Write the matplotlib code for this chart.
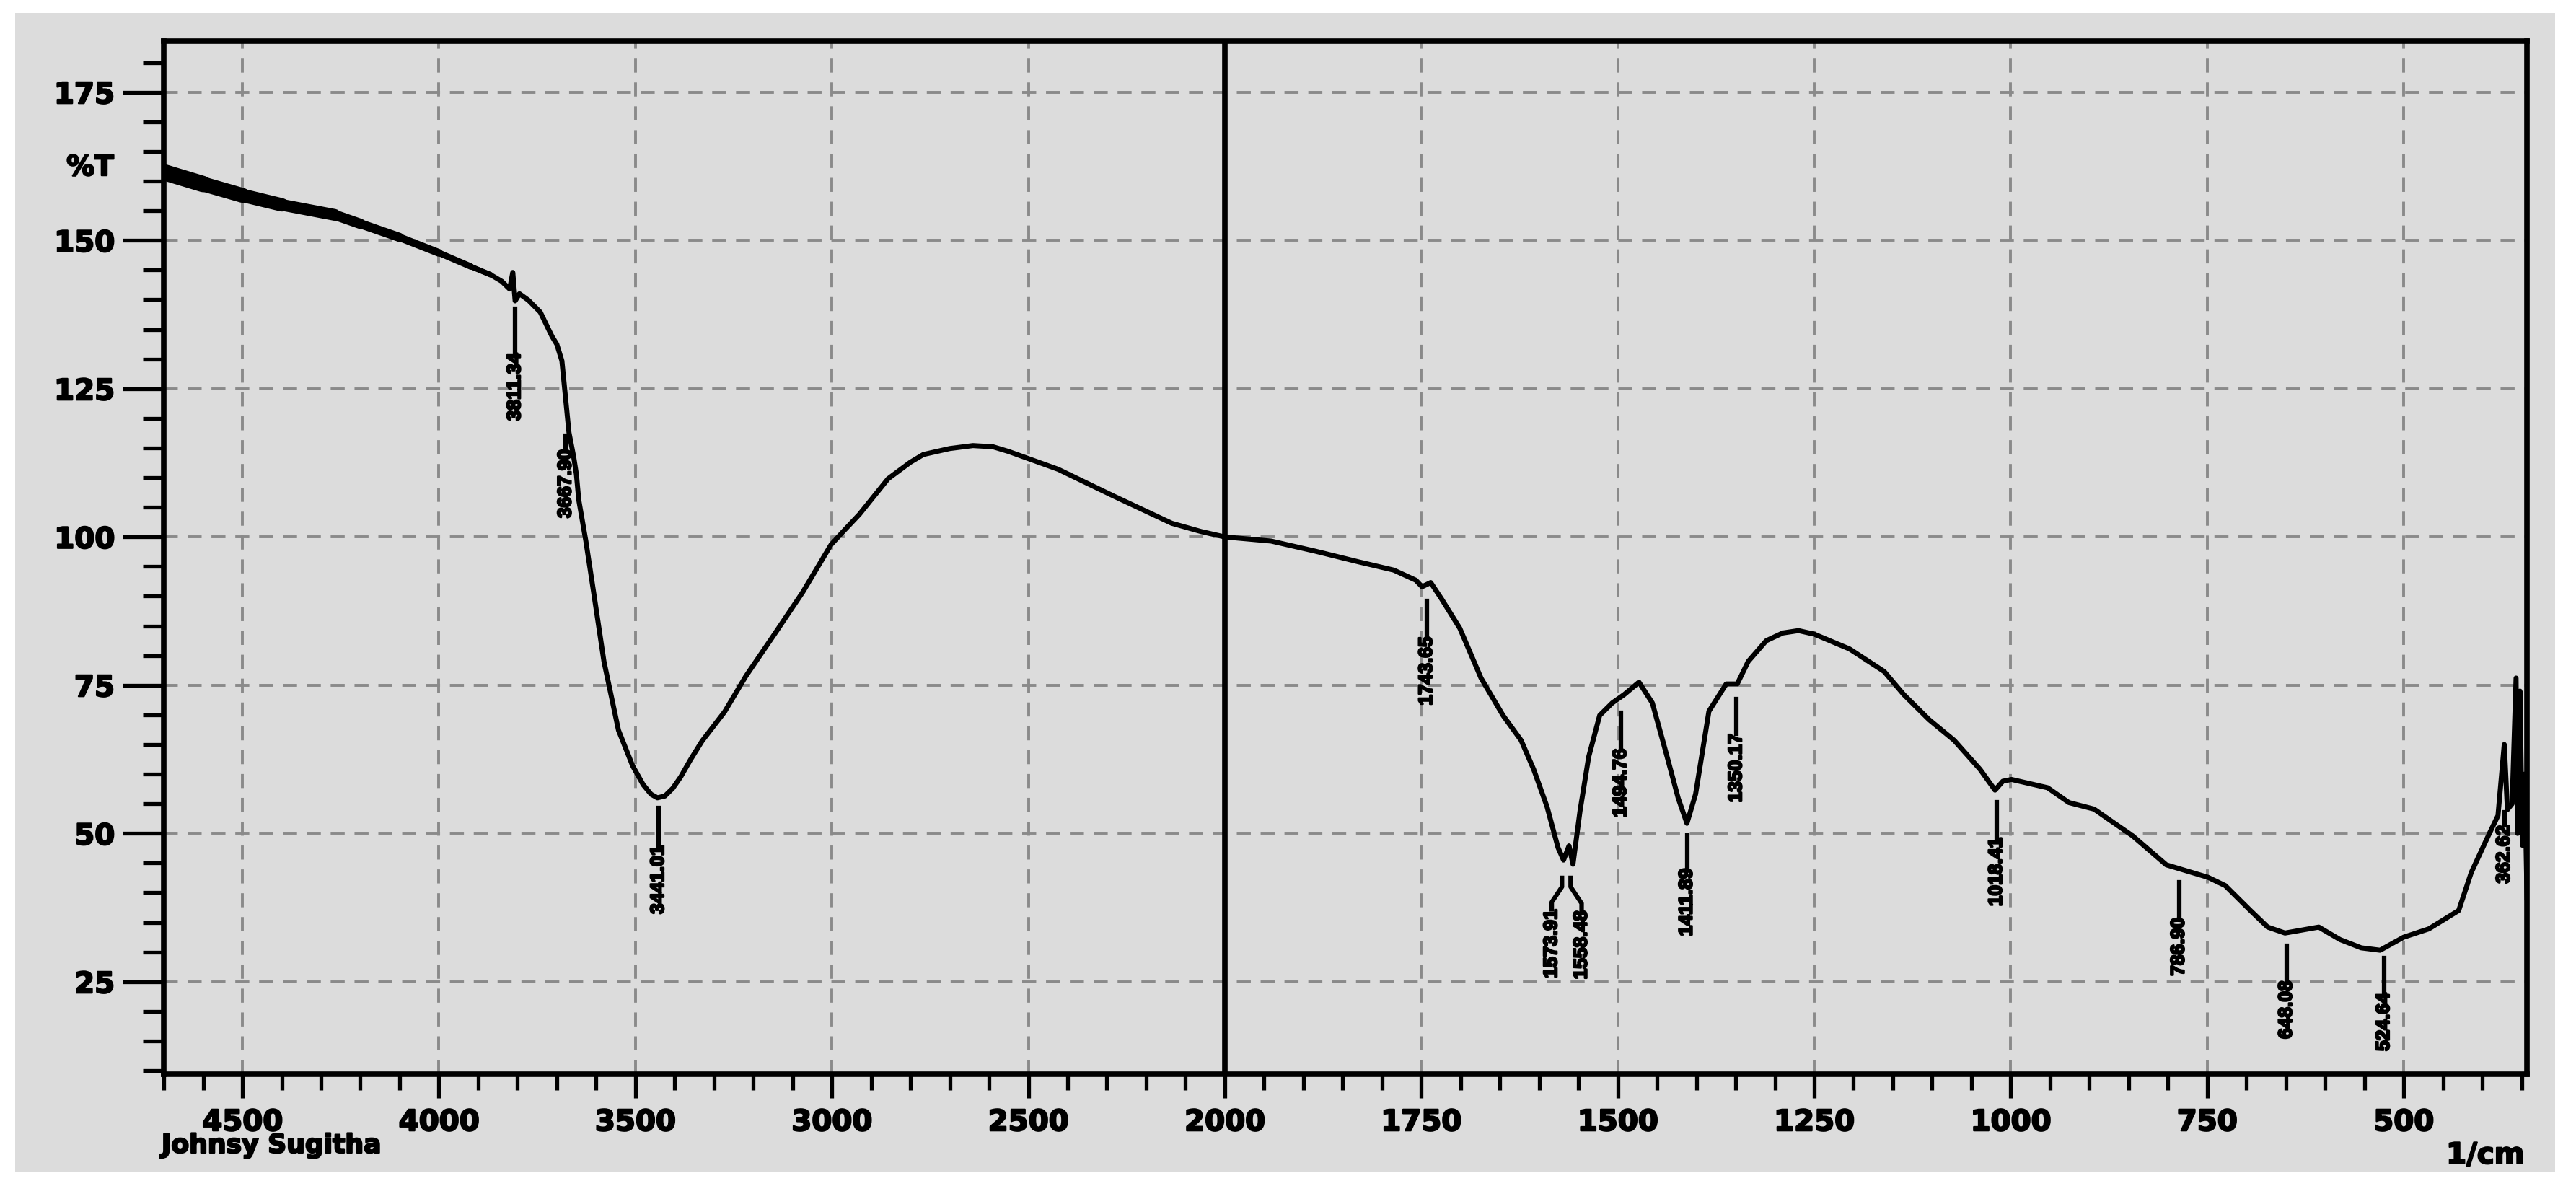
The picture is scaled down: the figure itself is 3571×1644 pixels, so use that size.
import numpy as np
import matplotlib
matplotlib.use("Agg")
import matplotlib.pyplot as plt
import matplotlib.patheffects as pe
from matplotlib import font_manager
from matplotlib.collections import LineCollection
from matplotlib.patches import Rectangle
from matplotlib.transforms import blended_transform_factory

# spectrum (1/cm, %T)
wavenumber = [4700, 4600, 4500, 4400, 4265, 4200, 4100, 4000, 3919, 3868, 3840, 3820,
              3812, 3806, 3795, 3772, 3742, 3712, 3700, 3687, 3678, 3669, 3657, 3650,
              3644, 3626, 3607, 3580, 3543, 3507, 3480, 3460, 3444, 3425, 3405, 3385,
              3360, 3330, 3273, 3219, 3146, 3074, 3002, 2970, 2930, 2857, 2800, 2767,
              2700, 2641, 2590, 2550, 2424, 2280, 2135, 2060, 2000, 1941, 1885, 1830,
              1785, 1757, 1749, 1738, 1724, 1701, 1674, 1646, 1623, 1607, 1590, 1576,
              1569, 1562, 1557, 1548, 1537, 1523, 1507, 1492, 1473, 1456, 1440, 1423,
              1412, 1401, 1384, 1362, 1348, 1334, 1311, 1290, 1270, 1250, 1205, 1161,
              1136, 1104, 1072, 1039, 1020, 1010, 999, 953, 926, 894, 845, 802,
              749, 727, 695, 673, 651, 608, 581, 554, 530, 500, 468, 430,
              414, 392, 380, 372, 368, 362, 357, 355, 352, 349, 346, 343]
transmittance = [161.5, 159.5, 157.6, 156.0, 154.3, 152.8, 150.5, 147.9, 145.6, 144.2, 143.1, 141.8,
                 144.6, 139.8, 141.0, 139.9, 137.9, 133.8, 132.5, 129.7, 123.7, 117.6, 113.5, 110.5,
                 106.2, 99.3, 91.0, 79.0, 67.4, 61.4, 58.2, 56.6, 56.0, 56.3, 57.6, 59.5,
                 62.4, 65.6, 70.5, 76.5, 83.6, 90.7, 98.7, 101.0, 103.8, 109.8, 112.6, 113.9,
                 114.9, 115.4, 115.2, 114.4, 111.4, 106.8, 102.3, 100.9, 100.0, 99.3, 97.6, 95.8,
                 94.4, 92.7, 91.6, 92.3, 89.5, 84.6, 76.2, 69.9, 65.7, 60.8, 54.5, 47.6,
                 45.5, 47.9, 44.8, 53.8, 62.9, 69.9, 72.0, 73.4, 75.5, 72.0, 64.3, 55.9,
                 51.7, 56.6, 70.6, 75.2, 75.2, 79.0, 82.5, 83.8, 84.2, 83.6, 81.1, 77.3,
                 73.4, 69.2, 65.7, 60.8, 57.3, 58.8, 59.1, 57.7, 55.2, 54.1, 49.6, 44.7,
                 42.6, 41.2, 37.0, 34.2, 33.2, 34.2, 32.1, 30.7, 30.3, 32.5, 33.9, 37.0,
                 43.4, 49.7, 53.0, 65.0, 54.0, 55.0, 76.2, 50.0, 74.0, 48.0, 60.0, 38.8]

# peak labels: text, leader start x, text x, leader top, leader bottom (= text top)
peak_text = ["3811.34", "3667.90", "3441.01", "1743.65", "1573.91", "1558.48", "1494.76",
             "1411.89", "1350.17", "1018.41", "786.90", "648.08", "524.64", "362.62"]
peak_w = [3806, 3677, 3441, 1743, 1571, 1560, 1496, 1412, 1349, 1018, 786, 649, 525, 372]
text_w = [3806, 3677, 3441, 1743, 1584, 1546, 1496, 1412, 1349, 1018, 786, 649, 525, 372]
line_top = [138.5, 117.0, 54.3, 89.2, 42.5, 42.5, 70.3, 49.7, 72.7, 55.2, 41.8, 31.1, 29.0, 53.5]
line_bottom = [131.0, 114.8, 48.0, 83.2, 37.2, 37.0, 64.3, 44.1, 66.8, 49.3, 35.8, 25.2, 23.1, 51.4]

x_major = [4500, 4000, 3500, 3000, 2500, 2000, 1750, 1500, 1250, 1000, 750, 500]
y_major = [25, 50, 75, 100, 125, 150, 175]
x_minor = list(range(4700, 2000, -100)) + list(range(1950, 340, -50))
y_minor = list(range(10, 185, 5))

BG = "#dcdcdc"
GRID = "#8a8a8a"
HEAVY = [pe.withStroke(linewidth=1.6, foreground="black")]

plt.rcParams["font.family"] = ["DejaVu Sans"]
plt.rcParams["font.weight"] = "bold"

names = {f.name for f in font_manager.fontManager.ttflist}
if "Liberation Sans Narrow" in names:
    peak_font, peak_size = "Liberation Sans Narrow", 23
else:
    peak_font, peak_size = "Liberation Sans", 19


def fwd(w):
    w = np.asarray(w, float)
    return np.where(w >= 2000, 2000 + (w - 2000) / 2.0, w)


def inv(u):
    u = np.asarray(u, float)
    return np.where(u >= 2000, 2000 + (u - 2000) * 2.0, u)


fig = plt.figure(figsize=(35.71, 16.44), dpi=100, facecolor="white")
fig.patches.append(Rectangle((0.006, 0.012), 0.986, 0.977, transform=fig.transFigure,
                             facecolor=BG, edgecolor="none", zorder=-10))
ax = fig.add_axes([0.0636, 0.0943, 0.9174, 0.871])
ax.set_facecolor(BG)
ax.set_xscale("function", functions=(fwd, inv))
ax.set_xlim(4700, 343)
ax.set_ylim(9.4, 183.6)

# dashed grid on the major ticks, a solid divider where the scale changes
for xv in x_major:
    if xv == 2000:
        ax.axvline(xv, color="black", lw=5.5, zorder=3)
    else:
        ax.axvline(xv, color=GRID, lw=2.8, ls=(0, (5, 3.5)), zorder=1)
for yv in y_major:
    ax.axhline(yv, color=GRID, lw=2.8, ls=(0, (5, 3.5)), zorder=1)

w = np.array(wavenumber, float)
t = np.array(transmittance, float)
ax.plot(w, t, color="black", lw=5, zorder=4, solid_joinstyle="round", solid_capstyle="round")

# noisy, thicker trace at the high-wavenumber end
left = w >= 3860
pts = np.column_stack([w[left], t[left]])
segs = np.stack([pts[:-1], pts[1:]], axis=1)
mid = (w[left][:-1] + w[left][1:]) / 2
lc = LineCollection(segs, colors="black", linewidths=5 + np.clip((mid - 3860) / 840, 0, 1) * 12,
                    capstyle="round", zorder=4)
ax.add_collection(lc)

for txt, pw, tw, top, bot in zip(peak_text, peak_w, text_w, line_top, line_bottom):
    if pw == tw:
        ax.plot([pw, pw], [top, bot], color="black", lw=4.5, zorder=5)
    else:
        ax.plot([pw, pw, tw, tw], [top, top - 1.5, bot + 1.2, bot], color="black", lw=4.5, zorder=5)
    ax.text(tw, bot, txt, rotation=90, ha="center", va="top", fontsize=peak_size,
            family=peak_font, fontweight="bold", zorder=5,
            path_effects=[pe.withStroke(linewidth=1.8, foreground="black")])

ax.set_xticks(x_major, labels=[str(v) for v in x_major])
ax.set_xticks(x_minor, minor=True)
ax.set_yticks(y_major, labels=[str(v) for v in y_major])
ax.set_yticks(y_minor, minor=True)
ax.tick_params(axis="x", which="major", length=24, width=3.8, pad=10, labelsize=29)
ax.tick_params(axis="x", which="minor", length=16, width=3.8)
ax.tick_params(axis="y", which="major", length=41, width=3.8, pad=8, labelsize=29)
ax.tick_params(axis="y", which="minor", length=21, width=3.8)
for lbl in ax.get_xticklabels() + ax.get_yticklabels():
    lbl.set_path_effects(HEAVY)
ax.grid(False)
for s in ax.spines.values():
    s.set_linewidth(5.5)
    s.set_zorder(6)

trans = blended_transform_factory(fig.transFigure, ax.transData)
ax.text(0.0442, 162.3, "%T", transform=trans, ha="right", va="center", fontsize=28,
        path_effects=HEAVY)
fig.text(0.0627, 0.028, "Johnsy Sugitha", ha="left", va="baseline", fontsize=26,
         path_effects=HEAVY)
fig.text(0.980, 0.019, "1/cm", ha="right", va="baseline", fontsize=29, path_effects=HEAVY)

fig.savefig("out.png", dpi=100, facecolor="white")
